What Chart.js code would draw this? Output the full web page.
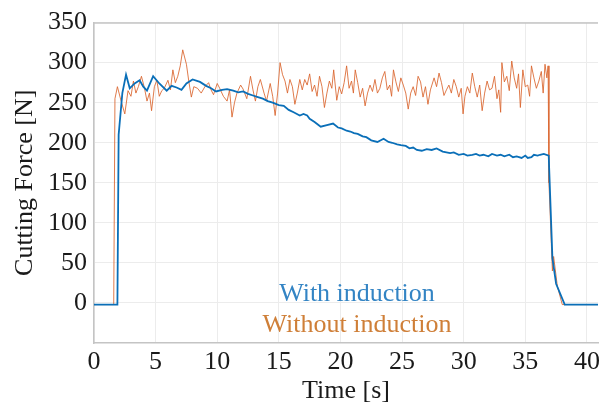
<!DOCTYPE html>
<html>
<head>
<meta charset="UTF-8">
<title>Cutting Force</title>
<script src="https://cdn.jsdelivr.net/npm/chart.js"></script>
<style>
  html, body { margin: 0; padding: 0; background: #ffffff; }
  #wrap { width: 614px; height: 408px; }
</style>
</head>
<body>
<div id="wrap"><canvas id="forceChart" width="614" height="408"></canvas></div>
<script>
// with induction (blue)
const withTime = [0, 1.9, 2.0, 2.3, 2.6, 2.9, 3.3, 3.7, 4.0, 4.3, 4.8, 5.3, 5.9, 6.3, 6.7, 7.1, 7.5, 8.0, 8.6, 9.1, 9.5, 9.9,
  10.4, 10.8, 11.3, 11.7, 12.1, 12.5, 12.9, 13.3, 13.7, 14.1, 14.5, 15.0, 15.4, 15.8, 16.2, 16.7, 17.0, 17.3, 17.5, 17.9,
  18.4, 18.9, 19.4, 19.8, 20.1, 20.5, 20.8, 21.1, 21.4, 21.8, 22.1, 22.5, 23.0, 23.5, 23.9, 24.2, 24.6, 24.9, 25.3, 25.6,
  25.9, 26.2, 26.6, 27.0, 27.4, 27.8, 28.3, 28.9, 29.2, 29.6, 30.0, 30.3, 30.7, 31.0, 31.3, 31.6, 32.0, 32.3, 32.7, 33.0,
  33.3, 33.7, 34.0, 34.3, 34.7, 35.0, 35.2, 35.5, 35.7, 36.0, 36.2, 36.5, 36.9, 37.2, 37.5, 38.2, 41];
const withForce = [-2, -2, 210, 262, 285, 268, 274, 278, 270, 265, 283, 274, 265, 271, 269, 266, 274, 279, 276, 271, 268, 264,
  266, 267, 265, 263, 264, 261, 259, 257, 255, 252, 250, 247, 246, 241, 238, 234, 236, 234, 230, 226,
  220, 222, 224, 219, 218, 215, 214, 212, 211, 208, 207, 203, 201, 205, 201, 200, 198, 197, 196, 193,
  194, 191, 190, 192, 191, 193, 189, 187, 188, 185, 186, 184, 185, 186, 184, 185, 183, 186, 184, 185,
  183, 185, 182, 183, 181, 184, 181, 182, 185, 184, 185, 186, 184, 56, 24, -2, -2];

// without induction (orange)
const withoutTime = [0, 1.6, 1.7, 1.9, 2.2, 2.5, 2.76, 3.0, 3.2, 3.4, 3.6, 3.85, 4.1, 4.3, 4.5, 4.67, 4.9, 5.1, 5.3, 5.5,
  5.7, 6.0, 6.2, 6.4, 6.6, 6.8, 7.0, 7.2, 7.5, 7.7, 7.9, 8.1, 8.4, 8.7, 9.0, 9.3, 9.5, 9.7, 10.0, 10.2, 10.5, 10.8,
  11.0, 11.2, 11.4, 11.6, 11.9, 12.1, 12.4, 12.7, 12.9, 13.1, 13.3, 13.5, 13.8, 14.0, 14.3, 14.5, 14.7, 14.9, 15.1,
  15.3, 15.5, 15.7, 15.9, 16.1, 16.3, 16.5, 16.7, 16.9, 17.1, 17.3, 17.5, 17.7, 17.9, 18.1, 18.3, 18.5, 18.7, 18.9,
  19.1, 19.3, 19.45, 19.7, 19.9, 20.1, 20.3, 20.5, 20.7, 20.9, 21.05, 21.2, 21.4, 21.6, 21.8, 22.0, 22.2, 22.4, 22.6,
  22.8, 23.0, 23.2, 23.4, 23.6, 23.8, 24.0, 24.15, 24.3, 24.5, 24.7, 24.9, 25.1, 25.3, 25.5, 25.7, 25.9, 26.1, 26.3,
  26.5, 26.7, 26.9, 27.1, 27.3, 27.6, 27.8, 28.0, 28.2, 28.4, 28.6, 28.8, 29.0, 29.2, 29.4, 29.6, 29.8, 29.95, 30.1,
  30.3, 30.5, 30.7, 30.9, 31.1, 31.3, 31.5, 31.7, 31.9, 32.1, 32.3, 32.5, 32.7, 32.85, 33.0, 33.1, 33.3, 33.5, 33.7,
  33.9, 34.1, 34.3, 34.45, 34.6, 34.8, 35.0, 35.2, 35.35, 35.5, 35.7, 35.9, 36.1, 36.3, 36.45, 36.6, 36.75, 36.85,
  36.92, 37.2, 37.3, 37.6, 38.0, 41];
const withoutForce = [-2, -2, 255, 270, 252, 236, 265, 258, 277, 262, 270, 283, 268, 252, 262, 240, 270, 278, 258, 265,
  268, 278, 266, 291, 275, 283, 296, 316, 298, 276, 257, 270, 268, 262, 270, 275, 266, 260, 274, 268, 258, 252,
  266, 232, 250, 262, 272, 267, 255, 283, 266, 252, 270, 279, 262, 252, 274, 258, 234, 262, 300,
  285, 277, 262, 279, 270, 248, 262, 279, 266, 279, 272, 286, 264, 272, 258, 283, 270, 244, 262,
  277, 268, 291, 253, 270, 261, 275, 296, 268, 277, 262, 291, 275, 257, 268, 246, 262, 272, 264,
  279, 262, 268, 281, 289, 266, 272, 258, 291, 276, 264, 281, 272, 262, 242, 262, 270, 259, 283,
  276, 257, 270, 248, 266, 281, 270, 287, 275, 259, 266, 272, 262, 279, 270, 257, 268, 236, 258,
  270, 262, 287, 270, 257, 272, 240, 262, 277, 266, 268, 283, 255, 266, 238, 300, 276, 283, 265,
  302, 281, 268, 286, 244, 291, 270, 272, 258, 296, 281, 268, 277, 289, 262, 298, 281, 296,
  150, 40, 58, 21, -2, -2];

const xTicks = [0, 5, 10, 15, 20, 25, 30, 35, 40];
const yTicks = [0, 50, 100, 150, 200, 250, 300, 350];

const seriesLabels = ['With induction', 'Without induction'];
const blue = '#0a6fb8';
const orange = 'rgba(217, 100, 45, 0.85)';
const axisColor = '#c4c4c4';
const gridColor = '#ececec';
const serif = "'Liberation Serif', 'DejaVu Serif', serif";

function toPoints(ts, vs) {
  return ts.map((t, i) => ({ x: t, y: vs[i] }));
}

// top box line + in-plot legend text
const decor = {
  id: 'decor',
  afterDatasetsDraw(chart) {
    const { ctx, chartArea } = chart;
    ctx.save();
    ctx.strokeStyle = axisColor;
    ctx.lineWidth = 1.5;
    ctx.beginPath();
    ctx.moveTo(chartArea.left, chartArea.top + 0.5);
    ctx.lineTo(chartArea.right, chartArea.top + 0.5);
    ctx.stroke();

    ctx.font = '26px ' + serif;
    ctx.textAlign = 'center';
    ctx.textBaseline = 'middle';
    ctx.fillStyle = '#3384c4';
    ctx.fillText(seriesLabels[0], 357, 294);
    ctx.fillStyle = '#cf7f38';
    ctx.fillText(seriesLabels[1], 357, 325);
    ctx.restore();
  }
};

new Chart(document.getElementById('forceChart'), {
  type: 'line',
  data: {
    datasets: [
      {
        label: seriesLabels[0],
        data: toPoints(withTime, withForce),
        borderColor: blue,
        borderWidth: 1.8,
        pointRadius: 0,
        tension: 0
      },
      {
        label: seriesLabels[1],
        data: toPoints(withoutTime, withoutForce),
        borderColor: orange,
        borderWidth: 1,
        pointRadius: 0,
        tension: 0
      }
    ]
  },
  options: {
    responsive: false,
    animation: false,
    layout: { padding: { top: 17, right: 16, left: 0, bottom: 0 } },
    plugins: {
      legend: { display: false },
      tooltip: { enabled: false }
    },
    scales: {
      x: {
        type: 'linear',
        min: 0,
        max: 40.9,
        afterBuildTicks: s => { s.ticks = xTicks.map(v => ({ value: v })); },
        afterFit: s => { s.height = 65; },
        ticks: { color: '#1a1a1a', font: { family: serif, size: 26 }, padding: 4, maxRotation: 0 },
        grid: { color: gridColor, drawTicks: false },
        border: { color: axisColor, width: 1.5 },
        title: {
          display: true,
          text: 'Time [s]',
          color: '#1a1a1a',
          font: { family: serif, size: 26 },
          padding: { top: 0, bottom: 1 }
        }
      },
      y: {
        min: -50,
        max: 350,
        afterBuildTicks: s => { s.ticks = yTicks.map(v => ({ value: v })); },
        afterFit: s => { s.width = 94; },
        ticks: { color: '#1a1a1a', font: { family: serif, size: 26 }, padding: 7 },
        grid: { color: gridColor, drawTicks: false },
        border: { color: axisColor, width: 1.5 },
        title: {
          display: true,
          text: 'Cutting Force [N]',
          color: '#1a1a1a',
          font: { family: serif, size: 26 },
          padding: { top: 10, bottom: 0 }
        }
      }
    }
  },
  plugins: [decor]
});
</script>
</body>
</html>
